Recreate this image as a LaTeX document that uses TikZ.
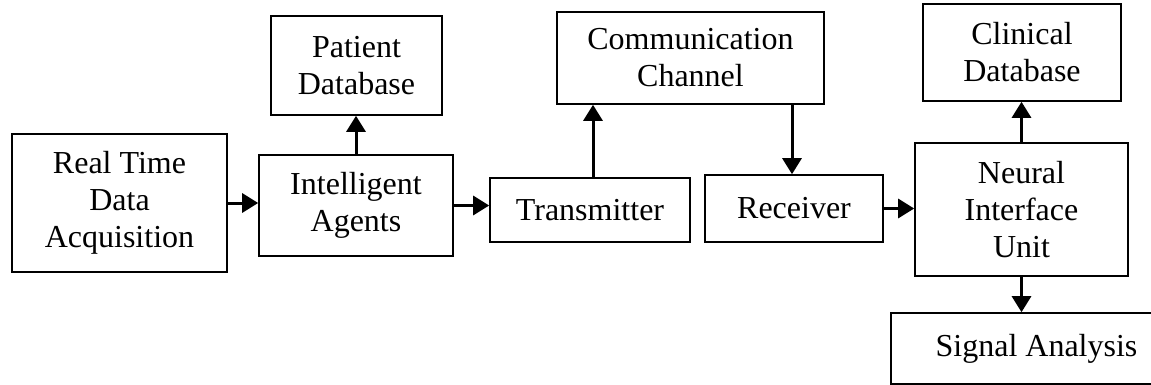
\documentclass[tikz,border=0pt]{standalone}
\usepackage{fontspec}
\setmainfont{Liberation Serif}
\usetikzlibrary{arrows.meta}
\begin{document}
\begin{tikzpicture}[x=1pt,y=-1pt,
  blk/.style={draw=black,line width=1.6pt,align=center,inner sep=0pt,
    font=\fontsize{32}{37}\selectfont},
  arr/.style={line width=3pt,-{Triangle[length=16pt,width=19pt]}}]
\useasboundingbox (0,0) rectangle (1151,385);
\clip (0,0) rectangle (1151,385);
\node[blk,minimum width=215pt,minimum height=138pt] (rt) at (119.5,203) {Real Time\\Data\\Acquisition};
\node[blk,minimum width=171pt,minimum height=99pt] (pd) at (356.5,65.5) {Patient\\Database};
\node[blk,minimum width=194pt,minimum height=101pt] (ia) at (356,205.5) {Intelligent\\Agents};
\node[blk,minimum width=200pt,minimum height=64pt] (tx) at (590,210) {Transmitter};
\node[blk,minimum width=267pt,minimum height=92pt] (cc) at (690.5,58) {Communication\\Channel};
\node[blk,minimum width=178pt,minimum height=67pt] (rx) at (794,208.5) {Receiver};
\node[blk,minimum width=198pt,minimum height=97pt] (cd) at (1022,52.5) {Clinical\\Database};
\node[blk,minimum width=213pt,minimum height=133pt] (niu) at (1021.5,209.5) {Neural\\Interface\\Unit};
\node[blk,minimum width=291pt,minimum height=71pt] (sa) at (1036.5,348.5) {Signal Analysis};
\draw[arr] (rt.east) -- (rt.east -| ia.west);
\draw[arr] (ia.north) -- (ia.north |- pd.south);
\draw[arr] (ia.east) -- (ia.east -| tx.west);
\draw[arr] ([xshift=3pt]tx.north) -- ([xshift=3pt]tx.north |- cc.south);
\draw[arr] ([xshift=-2pt]rx.north |- cc.south) -- ([xshift=-2pt]rx.north);
\draw[arr] (rx.east) -- (rx.east -| niu.west);
\draw[arr] (niu.north) -- (niu.north |- cd.south);
\draw[arr] (niu.south) -- (niu.south |- sa.north);
\end{tikzpicture}
\end{document}
